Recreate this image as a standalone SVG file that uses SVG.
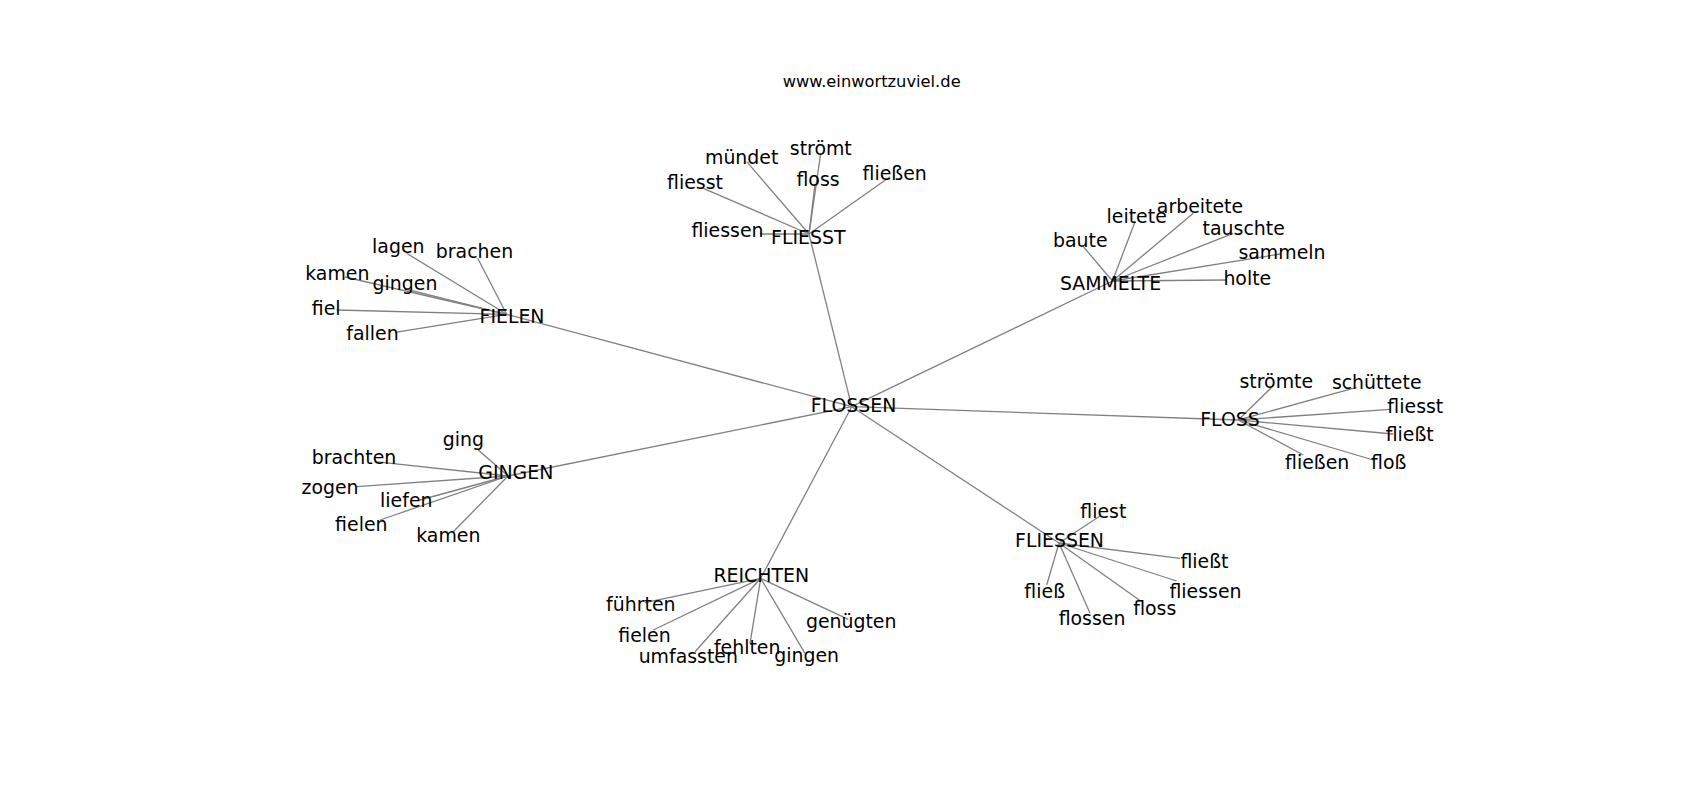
<svg xmlns="http://www.w3.org/2000/svg" width="1700" height="800" viewBox="0 0 1700 800">
<style>
.e line{stroke:#808080;stroke-width:1.3;fill:none}
text{font-family:"DejaVu Sans","Noto Sans",sans-serif;fill:#000;text-anchor:middle}
.n text{font-size:18.9px}
.t{font-size:16.3px}
</style>
<rect width="1700" height="800" fill="#fff"/>
<text class="t" x="871.7" y="87.3">www.einwortzuviel.de</text>
<g class="e" id="connectors">
<line x1="851.7" y1="406.7" x2="506.7" y2="314.3"/>
<line x1="851.7" y1="406.7" x2="809" y2="234"/>
<line x1="851.7" y1="406.7" x2="1112.5" y2="281"/>
<line x1="851.7" y1="406.7" x2="1238.3" y2="420"/>
<line x1="851.7" y1="406.7" x2="1059" y2="543"/>
<line x1="851.7" y1="406.7" x2="760.7" y2="578.3"/>
<line x1="851.7" y1="406.7" x2="508" y2="476"/>
<line x1="506.7" y1="314.3" x2="406.7" y2="253.3"/>
<line x1="506.7" y1="314.3" x2="477.7" y2="258.3"/>
<line x1="506.7" y1="314.3" x2="345" y2="277"/>
<line x1="506.7" y1="314.3" x2="405" y2="289"/>
<line x1="506.7" y1="314.3" x2="336.7" y2="310"/>
<line x1="506.7" y1="314.3" x2="395" y2="332.3"/>
<line x1="809" y1="234" x2="760" y2="234"/>
<line x1="809" y1="234" x2="703.3" y2="188.3"/>
<line x1="809" y1="234" x2="746.7" y2="161.7"/>
<line x1="809" y1="234" x2="820.7" y2="153.3"/>
<line x1="809" y1="234" x2="815" y2="184"/>
<line x1="809" y1="234" x2="890" y2="176.7"/>
<line x1="1112.5" y1="281" x2="1083.3" y2="246.7"/>
<line x1="1112.5" y1="281" x2="1135" y2="221.7"/>
<line x1="1112.5" y1="281" x2="1193.3" y2="213.3"/>
<line x1="1112.5" y1="281" x2="1233.3" y2="233.3"/>
<line x1="1112.5" y1="281" x2="1280" y2="254"/>
<line x1="1112.5" y1="281" x2="1226.7" y2="280"/>
<line x1="1238.3" y1="420" x2="1271.7" y2="387.3"/>
<line x1="1238.3" y1="420" x2="1356.7" y2="387.3"/>
<line x1="1238.3" y1="420" x2="1390" y2="409.3"/>
<line x1="1238.3" y1="420" x2="1393.3" y2="434"/>
<line x1="1238.3" y1="420" x2="1303.3" y2="455"/>
<line x1="1238.3" y1="420" x2="1373.3" y2="460"/>
<line x1="508" y1="476" x2="478.3" y2="450"/>
<line x1="508" y1="476" x2="375" y2="461.7"/>
<line x1="508" y1="476" x2="356.7" y2="486.7"/>
<line x1="508" y1="476" x2="420" y2="500"/>
<line x1="508" y1="476" x2="380" y2="520"/>
<line x1="508" y1="476" x2="453.3" y2="531.7"/>
<line x1="760.7" y1="578.3" x2="645" y2="602.7"/>
<line x1="760.7" y1="578.3" x2="653.3" y2="630"/>
<line x1="760.7" y1="578.3" x2="695" y2="651.7"/>
<line x1="760.7" y1="578.3" x2="750" y2="643.3"/>
<line x1="760.7" y1="578.3" x2="805" y2="653.3"/>
<line x1="760.7" y1="578.3" x2="848.3" y2="619.3"/>
<line x1="1059" y1="543" x2="1100" y2="516"/>
<line x1="1059" y1="543" x2="1180" y2="558.3"/>
<line x1="1059" y1="543" x2="1176.7" y2="581"/>
<line x1="1059" y1="543" x2="1141.7" y2="601.7"/>
<line x1="1059" y1="543" x2="1046.7" y2="585"/>
<line x1="1059" y1="543" x2="1090" y2="613.3"/>
</g>
<g class="n" id="n-flossen"><text x="853.5" y="412.3">FLOSSEN</text></g>
<g class="n" id="n-fielen"><text x="512" y="322.7">FIELEN</text></g>
<g class="n" id="n-fielen-lagen"><text x="398.3" y="253.3">lagen</text></g>
<g class="n" id="n-fielen-brachen"><text x="474.5" y="258.3">brachen</text></g>
<g class="n" id="n-fielen-kamen"><text x="337.3" y="280">kamen</text></g>
<g class="n" id="n-fielen-gingen"><text x="405" y="290">gingen</text></g>
<g class="n" id="n-fielen-fiel"><text x="326.2" y="315">fiel</text></g>
<g class="n" id="n-fielen-fallen"><text x="372.5" y="340">fallen</text></g>
<g class="n" id="n-fliesst"><text x="808.3" y="244.3">FLIESST</text></g>
<g class="n" id="n-fliesst-fliessen"><text x="727.5" y="236.7">fliessen</text></g>
<g class="n" id="n-fliesst-fliesst"><text x="695" y="189.3">fliesst</text></g>
<g class="n" id="n-fliesst-muendet"><text x="741.7" y="164">mündet</text></g>
<g class="n" id="n-fliesst-stroemt"><text x="820.8" y="155">strömt</text></g>
<g class="n" id="n-fliesst-floss"><text x="818" y="186">floss</text></g>
<g class="n" id="n-fliesst-fliessen2"><text x="894.7" y="180">fließen</text></g>
<g class="n" id="n-sammelte"><text x="1110.5" y="290">SAMMELTE</text></g>
<g class="n" id="n-sammelte-baute"><text x="1080.3" y="246.7">baute</text></g>
<g class="n" id="n-sammelte-leitete"><text x="1136.7" y="223.3">leitete</text></g>
<g class="n" id="n-sammelte-arbeitete"><text x="1200" y="212.7">arbeitete</text></g>
<g class="n" id="n-sammelte-tauschte"><text x="1243.7" y="235">tauschte</text></g>
<g class="n" id="n-sammelte-sammeln"><text x="1282" y="259">sammeln</text></g>
<g class="n" id="n-sammelte-holte"><text x="1247.3" y="285">holte</text></g>
<g class="n" id="n-floss"><text x="1230" y="426">FLOSS</text></g>
<g class="n" id="n-floss-stroemte"><text x="1276.3" y="388.3">strömte</text></g>
<g class="n" id="n-floss-schuettete"><text x="1376.7" y="389">schüttete</text></g>
<g class="n" id="n-floss-fliesst"><text x="1415.3" y="412.7">fliesst</text></g>
<g class="n" id="n-floss-fliesst2"><text x="1409.7" y="440.7">fließt</text></g>
<g class="n" id="n-floss-fliessen"><text x="1317.2" y="469.3">fließen</text></g>
<g class="n" id="n-floss-floss"><text x="1388.8" y="469.3">floß</text></g>
<g class="n" id="n-gingen"><text x="515.8" y="479.3">GINGEN</text></g>
<g class="n" id="n-gingen-ging"><text x="463.3" y="446">ging</text></g>
<g class="n" id="n-gingen-brachten"><text x="354" y="464">brachten</text></g>
<g class="n" id="n-gingen-zogen"><text x="330" y="494">zogen</text></g>
<g class="n" id="n-gingen-liefen"><text x="406.3" y="507.3">liefen</text></g>
<g class="n" id="n-gingen-fielen"><text x="361.3" y="530.7">fielen</text></g>
<g class="n" id="n-gingen-kamen"><text x="448.3" y="542.3">kamen</text></g>
<g class="n" id="n-reichten"><text x="761.2" y="581.7">REICHTEN</text></g>
<g class="n" id="n-reichten-fuehrten"><text x="640.8" y="610.7">führten</text></g>
<g class="n" id="n-reichten-fielen"><text x="644.5" y="641.7">fielen</text></g>
<g class="n" id="n-reichten-umfassten"><text x="688.3" y="662.7">umfassten</text></g>
<g class="n" id="n-reichten-fehlten"><text x="747.2" y="654.3">fehlten</text></g>
<g class="n" id="n-reichten-gingen"><text x="806.7" y="661.7">gingen</text></g>
<g class="n" id="n-reichten-genuegten"><text x="851.2" y="628.3">genügten</text></g>
<g class="n" id="n-fliessen"><text x="1059.5" y="546.7">FLIESSEN</text></g>
<g class="n" id="n-fliessen-fliest"><text x="1103.3" y="518.3">fliest</text></g>
<g class="n" id="n-fliessen-fliesst"><text x="1204.5" y="568.3">fließt</text></g>
<g class="n" id="n-fliessen-fliessen"><text x="1205.5" y="597.7">fliessen</text></g>
<g class="n" id="n-fliessen-floss"><text x="1154.7" y="615">floss</text></g>
<g class="n" id="n-fliessen-fliess"><text x="1044.7" y="598.3">fließ</text></g>
<g class="n" id="n-fliessen-flossen"><text x="1092" y="625">flossen</text></g>
</svg>
